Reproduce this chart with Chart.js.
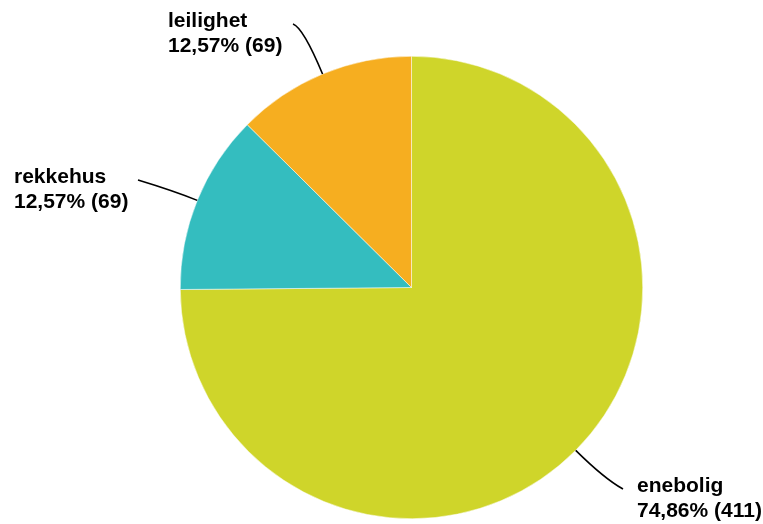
<!DOCTYPE html>
<html lang="no">
<head>
  <meta charset="UTF-8">
  <title>Boligtype</title>
  <script src="https://cdn.jsdelivr.net/npm/chart.js"></script>
  <style>
    html, body { margin: 0; padding: 0; background: #fff; }
    #wrap { width: 763px; height: 524px; }
  </style>
</head>
<body>
  <div id="wrap"><canvas id="pie"></canvas></div>
  <script>
    // data
    const categories = ['enebolig', 'rekkehus', 'leilighet'];
    const counts = [411, 69, 69];
    const sliceColors = ['#cfd52a', '#34bdbf', '#f6ae20'];

    // label layout: text position, line start, how far out the bend of the leader line sits
    const labelLayout = [
      { x: 637, y: 492, lx: 623, ly: 489, bend: 40 },
      { x: 14, y: 183, lx: 138, ly: 180, bend: 25 },
      { x: 168, y: 27, lx: 293, ly: 24, bend: 50 }
    ];

    const total = counts.reduce((a, b) => a + b, 0);
    const pct = v => (v / total * 100).toFixed(2).replace('.', ',') + '%';

    const leaderLabels = {
      id: 'leaderLabels',
      afterDraw(chart) {
        const ctx = chart.ctx;
        const arcs = chart.getDatasetMeta(0).data;
        ctx.save();
        arcs.forEach((arc, i) => {
          const L = labelLayout[i];
          const a = (arc.startAngle + arc.endAngle) / 2;
          const ex = arc.x + Math.cos(a) * arc.outerRadius;
          const ey = arc.y + Math.sin(a) * arc.outerRadius;
          const cx = arc.x + Math.cos(a) * (arc.outerRadius + L.bend);
          const cy = arc.y + Math.sin(a) * (arc.outerRadius + L.bend);
          ctx.beginPath();
          ctx.moveTo(L.lx, L.ly);
          ctx.quadraticCurveTo(cx, cy, ex, ey);
          ctx.strokeStyle = '#000';
          ctx.lineWidth = 1.6;
          ctx.stroke();

          ctx.fillStyle = '#000';
          ctx.font = 'bold 21px "Liberation Sans", Arial, sans-serif';
          ctx.textAlign = 'left';
          ctx.textBaseline = 'alphabetic';
          ctx.fillText(categories[i], L.x, L.y);
          ctx.fillText(pct(counts[i]) + ' (' + counts[i] + ')', L.x, L.y + 25);
        });
        ctx.restore();
      }
    };

    new Chart(document.getElementById('pie'), {
      type: 'pie',
      data: {
        labels: categories,
        datasets: [{
          data: counts,
          backgroundColor: sliceColors,
          borderColor: '#ffffff',
          borderWidth: 0.5
        }]
      },
      options: {
        responsive: true,
        maintainAspectRatio: false,
        animation: false,
        layout: { padding: { left: 180, right: 120, top: 56, bottom: 5 } },
        plugins: { legend: { display: false }, tooltip: { enabled: false } }
      },
      plugins: [leaderLabels]
    });
  </script>
</body>
</html>
